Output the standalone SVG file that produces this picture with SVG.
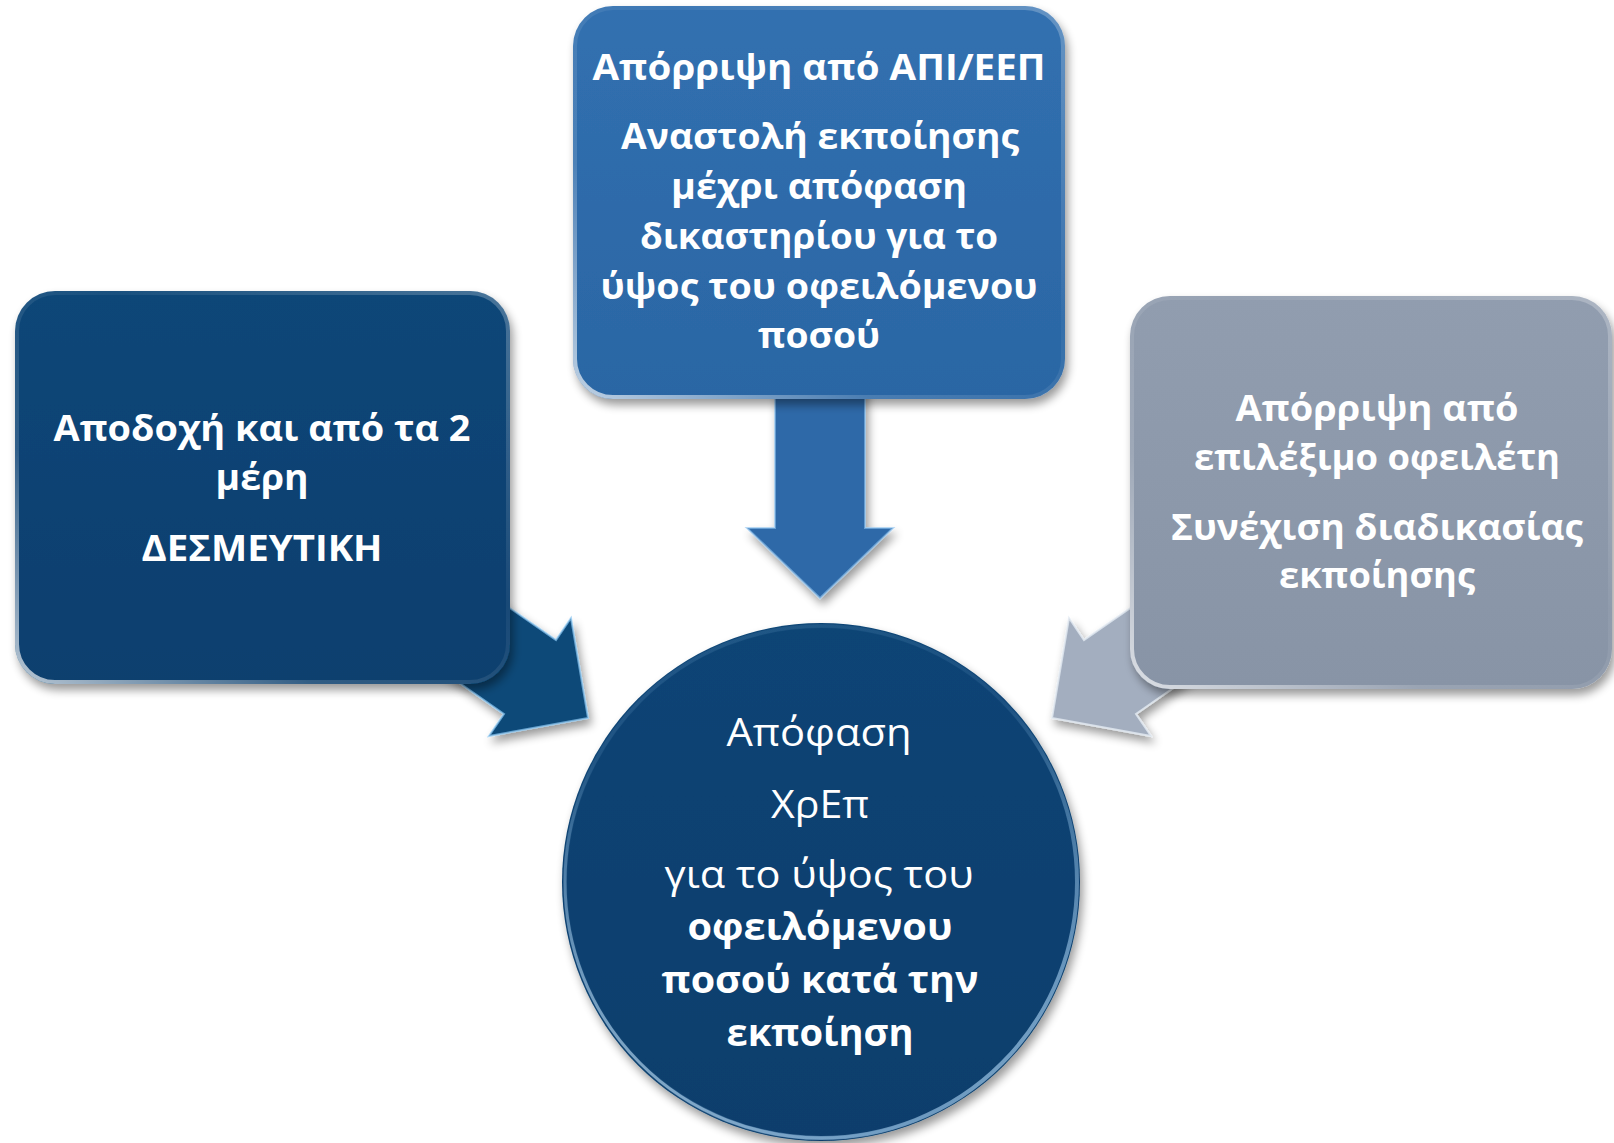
<svg xmlns="http://www.w3.org/2000/svg" width="1614" height="1143" viewBox="0 0 1614 1143">
  <defs>
    <style>
      .t { font-family: "Open Sans", "Noto Sans", "DejaVu Sans", sans-serif; fill: #ffffff; text-anchor: middle; }
      .b { font-weight: bold; font-size: 36px; }
      .cr { font-weight: normal; font-size: 38px; }
      .cb { font-weight: bold; font-size: 38px; }
      .bevel { fill: none; stroke: url(#bevelGrad); stroke-width: 4; }
    </style>
    <filter id="shadow" x="-10%" y="-10%" width="125%" height="125%">
      <feGaussianBlur in="SourceAlpha" stdDeviation="5"/>
      <feOffset dx="3" dy="6" result="o"/>
      <feComponentTransfer><feFuncA type="linear" slope="0.4"/></feComponentTransfer>
      <feMerge><feMergeNode/><feMergeNode in="SourceGraphic"/></feMerge>
    </filter>
    <linearGradient id="gTop" x1="0" y1="0" x2="0" y2="1">
      <stop offset="0" stop-color="#3170b0"/>
      <stop offset="1" stop-color="#2b66a4"/>
    </linearGradient>
    <linearGradient id="gLeft" x1="0" y1="0" x2="0" y2="1">
      <stop offset="0" stop-color="#0a4678"/>
      <stop offset="1" stop-color="#073f6e"/>
    </linearGradient>
    <linearGradient id="gRight" x1="0" y1="0" x2="0" y2="1">
      <stop offset="0" stop-color="#919daf"/>
      <stop offset="1" stop-color="#8894a6"/>
    </linearGradient>
    <linearGradient id="gCircle" x1="0" y1="0" x2="0" y2="1">
      <stop offset="0" stop-color="#0a4475"/>
      <stop offset="1" stop-color="#083e6c"/>
    </linearGradient>
    <linearGradient id="bevelGrad" x1="1" y1="0" x2="0" y2="1">
      <stop offset="0" stop-color="#ffffff" stop-opacity="0.25"/>
      <stop offset="0.4" stop-color="#ffffff" stop-opacity="0.05"/>
      <stop offset="0.7" stop-color="#ffffff" stop-opacity="0.15"/>
      <stop offset="1" stop-color="#ffffff" stop-opacity="0.7"/>
    </linearGradient>
    <linearGradient id="rimGrad" x1="0" y1="0" x2="1" y2="1">
      <stop offset="0" stop-color="#9fd0f5" stop-opacity="0.1"/>
      <stop offset="0.5" stop-color="#9fd0f5" stop-opacity="0.05"/>
      <stop offset="1" stop-color="#bfe3ff" stop-opacity="0.8"/>
    </linearGradient>
    <linearGradient id="rimGrad2" x1="1" y1="0" x2="0" y2="1">
      <stop offset="0" stop-color="#9fd0f5" stop-opacity="0.05"/>
      <stop offset="0.6" stop-color="#9fd0f5" stop-opacity="0.05"/>
      <stop offset="1" stop-color="#d8efff" stop-opacity="0.9"/>
    </linearGradient>
  </defs>

  <rect width="1614" height="1143" fill="#ffffff"/>

  <g id="connectors">
    <polygon id="arrow-top" points="775,380 865,380 865,528 893,528 820,598 747,528 775,528" fill="#2d69a8" stroke="#8cc2ee" stroke-opacity="0.6" stroke-width="2" filter="url(#shadow)"/>
    <polygon id="arrow-left" points="433,555 556,640 571,618 588,718 489,736 504,714 381,628" fill="#0b4878" stroke="#8cc8f2" stroke-opacity="0.7" stroke-width="2" filter="url(#shadow)"/>
    <polygon id="arrow-right" points="1207,555 1084,640 1069,618 1052,718 1151,736 1136,714 1259,628" fill="#a3aebf" stroke="#e4ebf3" stroke-opacity="0.8" stroke-width="2" filter="url(#shadow)"/>
  </g>

  <g id="node-top">
    <rect x="573" y="6" width="492" height="393" rx="40" fill="url(#gTop)" filter="url(#shadow)"/>
    <rect x="575" y="8" width="488" height="389" rx="38" class="bevel"/>
    <text class="t b" x="819" y="80" textLength="453" lengthAdjust="spacingAndGlyphs">Απόρριψη από ΑΠΙ/ΕΕΠ</text>
    <text class="t b" x="820" y="149" textLength="398" lengthAdjust="spacingAndGlyphs">Αναστολή εκποίησης</text>
    <text class="t b" x="819" y="199" textLength="296" lengthAdjust="spacingAndGlyphs">μέχρι απόφαση</text>
    <text class="t b" x="819" y="249" textLength="358" lengthAdjust="spacingAndGlyphs">δικαστηρίου για το</text>
    <text class="t b" x="819" y="299" textLength="437" lengthAdjust="spacingAndGlyphs">ύψος του οφειλόμενου</text>
    <text class="t b" x="819" y="348" textLength="122" lengthAdjust="spacingAndGlyphs">ποσού</text>
  </g>

  <g id="node-left">
    <rect x="15" y="291" width="495" height="393" rx="40" fill="url(#gLeft)" filter="url(#shadow)"/>
    <rect x="17" y="293" width="491" height="389" rx="38" class="bevel"/>
    <text class="t b" x="262" y="441" textLength="417" lengthAdjust="spacingAndGlyphs">Αποδοχή και από τα 2</text>
    <text class="t b" x="262" y="490" textLength="93" lengthAdjust="spacingAndGlyphs">μέρη</text>
    <text class="t b" x="262" y="561" textLength="241" lengthAdjust="spacingAndGlyphs">ΔΕΣΜΕΥΤΙΚΗ</text>
  </g>

  <g id="node-right">
    <rect x="1130" y="296" width="482" height="393" rx="40" fill="url(#gRight)" filter="url(#shadow)"/>
    <rect x="1132" y="298" width="478" height="389" rx="38" class="bevel"/>
    <text class="t b" x="1377" y="421" textLength="283" lengthAdjust="spacingAndGlyphs">Απόρριψη από</text>
    <text class="t b" x="1377" y="470" textLength="366" lengthAdjust="spacingAndGlyphs">επιλέξιμο οφειλέτη</text>
    <text class="t b" x="1377" y="540" textLength="412" lengthAdjust="spacingAndGlyphs">Συνέχιση διαδικασίας</text>
    <text class="t b" x="1377" y="588" textLength="196" lengthAdjust="spacingAndGlyphs">εκποίησης</text>
  </g>

  <g id="node-center">
    <circle cx="821" cy="882" r="259" fill="url(#gCircle)" filter="url(#shadow)"/>
    <circle cx="821" cy="882" r="256" fill="none" stroke="url(#rimGrad)" stroke-width="4"/>
    <circle cx="821" cy="882" r="256" fill="none" stroke="url(#rimGrad2)" stroke-width="3"/>
    <text class="t cr" x="819" y="746" textLength="185" lengthAdjust="spacingAndGlyphs">Απόφαση</text>
    <text class="t cr" x="820" y="818" textLength="98" lengthAdjust="spacingAndGlyphs">ΧρΕπ</text>
    <text class="t cr" x="819" y="888" textLength="309" lengthAdjust="spacingAndGlyphs">για το ύψος του</text>
    <text class="t cb" x="820" y="940" textLength="265" lengthAdjust="spacingAndGlyphs">οφειλόμενου</text>
    <text class="t cb" x="820" y="993" textLength="317" lengthAdjust="spacingAndGlyphs">ποσού κατά την</text>
    <text class="t cb" x="820" y="1046" textLength="187" lengthAdjust="spacingAndGlyphs">εκποίηση</text>
  </g>
</svg>
